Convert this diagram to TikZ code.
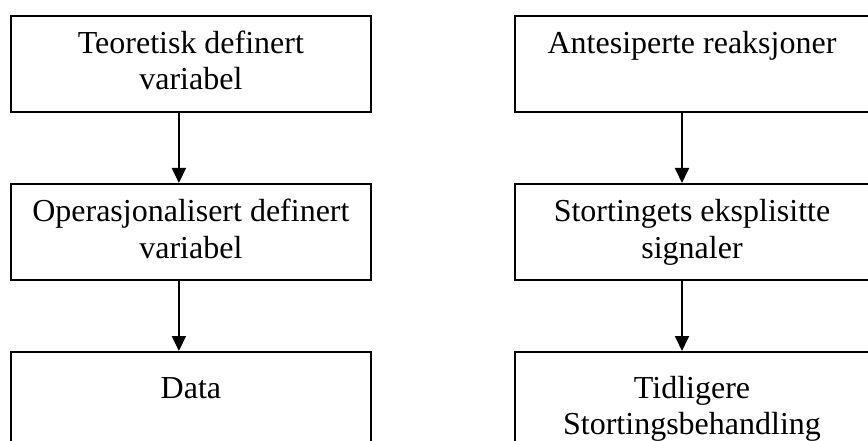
\documentclass[tikz,border=0pt]{standalone}
\usepackage{fontspec}
\setmainfont{Liberation Serif}
\usetikzlibrary{arrows.meta}
\begin{document}
\begin{tikzpicture}[x=1pt,y=-1pt,
  frame/.style={draw, line width=1.8pt, inner sep=0pt, anchor=north west,
    minimum height=96pt},
  leftframe/.style={frame, minimum width=360pt},
  rightframe/.style={frame, minimum width=362pt},
  % the base anchor of a wrapped text is the baseline of its last line
  boxtext/.style={anchor=base, align=center, inner sep=0pt,
    font=\fontsize{32}{36}\selectfont},
  oneline/.style={yshift=-39pt},
  twolines/.style={yshift=-75pt},
  lowone/.style={yshift=-47pt},
  lowtwo/.style={yshift=-83pt},
  flowarrow/.style={line width=1.8pt, -{Triangle[length=15pt,width=14pt]}}]
\useasboundingbox (0,0) rectangle (868,441);

% left column
\node[leftframe] (L1) at (10,15) {};
\node[leftframe] (L2) at (10,183) {};
\node[leftframe, minimum height=110pt] (L3) at (10,351) {};
\node[boxtext] (T1) at ([twolines]L1.north) {Teoretisk definert\\variabel};
\node[boxtext] (T2) at ([twolines]L2.north) {Operasjonalisert definert\\variabel};
\node[boxtext] (T3) at ([lowone]L3.north) {Data};

% right column
\node[rightframe] (R1) at (514,15) {};
\node[rightframe] (R2) at (514,183) {};
\node[rightframe, minimum height=110pt] (R3) at (514,351) {};
\node[boxtext] (S1) at ([oneline]R1.north west -| 692,0) {Antesiperte reaksjoner};
\node[boxtext] (S2) at ([twolines]R2.north west -| 692,0) {Stortingets eksplisitte\\signaler};
\node[boxtext] (S3) at ([lowtwo]R3.north west -| 692,0) {Tidligere\\Stortingsbehandling};

% connectors
\draw[flowarrow] ([xshift=-12pt]L1.south) -- ([xshift=-12pt]L2.north);
\draw[flowarrow] ([xshift=-12pt]L2.south) -- ([xshift=-12pt]L3.north);
\draw[flowarrow] ([xshift=168pt]R1.south west) -- ([xshift=168pt]R2.north west);
\draw[flowarrow] ([xshift=168pt]R2.south west) -- ([xshift=168pt]R3.north west);
\end{tikzpicture}
\end{document}
